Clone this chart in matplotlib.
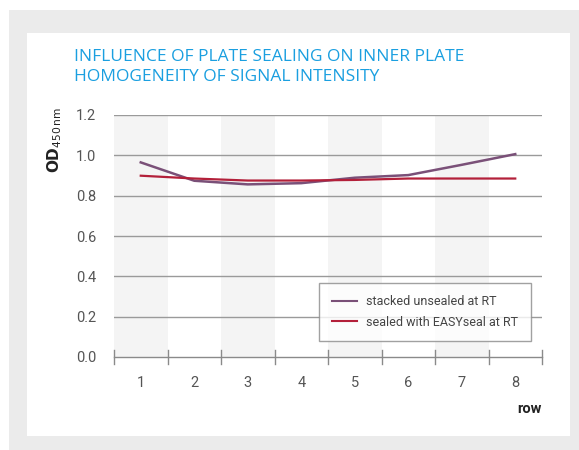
import numpy as np
import matplotlib.pyplot as plt
from matplotlib.patches import Rectangle

# Data
rows = [1, 2, 3, 4, 5, 6, 7, 8]
unsealed = [0.965, 0.874, 0.856, 0.862, 0.889, 0.902, 0.953, 1.006]
sealed = [0.899, 0.885, 0.875, 0.875, 0.878, 0.885, 0.885, 0.885]
yticks = [0.0, 0.2, 0.4, 0.6, 0.8, 1.0, 1.2]
labels = ["stacked unsealed at RT", "sealed with EASYseal at RT"]
title = "INFLUENCE OF PLATE SEALING ON INNER PLATE\nHOMOGENEITY OF SIGNAL INTENSITY"

W, H = 579, 450
fig = plt.figure(figsize=(W / 100, H / 100), dpi=100)
fig.patch.set_facecolor("white")

# grey frame and white panel
fig.patches.append(Rectangle((9 / W, 0), 1, 1 - 10 / H, transform=fig.transFigure,
                             facecolor="#ebebeb", edgecolor="none", zorder=-10))
fig.patches.append(Rectangle((27 / W, 1 - 436 / H), (570 - 27) / W, (436 - 33) / H,
                             transform=fig.transFigure, facecolor="white",
                             edgecolor="none", zorder=-9))

ax = fig.add_axes([114 / W, 1 - 357 / H, (542 - 114) / W, (357 - 115) / H])
ax.set_facecolor("none")

x = np.arange(len(rows))
for i in range(0, len(rows), 2):
    ax.axvspan(i - 0.5, i + 0.5, color="#f4f4f4", lw=0, zorder=0)

for v in yticks[1:]:
    ax.axhline(v, color="#9a9a9a", lw=1, zorder=1)

ax.plot(x, unsealed, color="#7a5078", lw=1.8, zorder=3, label=labels[0])
ax.plot(x, sealed, color="#b3203a", lw=1.6, zorder=3, label=labels[1])

ax.set_xlim(-0.5, len(rows) - 0.5)
ax.set_ylim(0, 1.2)
for s in ax.spines.values():
    s.set_visible(False)
ax.axhline(0, color="#8a8a8a", lw=1, zorder=2, clip_on=False)

# tick marks at category borders, crossing the base line
for b in np.arange(-0.5, len(rows), 1.0):
    ax.plot([b, b], [-0.035, 0.035], color="#8a8a8a", lw=1, clip_on=False, zorder=2)

ax.set_xticks(x)
ax.set_xticklabels([str(r) for r in rows])
ax.set_yticks(yticks)
ax.set_yticklabels([f"{v:.1f}" for v in yticks])
ax.tick_params(axis="both", length=0, labelsize=10.5, labelcolor="#555555")
ax.tick_params(axis="x", pad=14)
ax.tick_params(axis="y", pad=13)
for t in ax.get_xticklabels() + ax.get_yticklabels():
    t.set_family("Roboto")

ax.text(1.0, -0.215, "row", transform=ax.transAxes, ha="right", va="center",
        fontsize=10.5, fontweight="bold", color="#222222", family="Roboto")
fig.text(55 / W, 1 - 140 / H, r"$\mathbf{OD}_{\mathregular{450\,nm}}$", rotation=90,
         ha="center", va="center", fontsize=11, color="#222222")

fig.text(74 / W, 1 - 67 / H, title, ha="left", va="center", fontsize=12.5,
         color="#1a9fe0", family="Open Sans", linespacing=1.35)

leg = ax.legend(loc="lower right", bbox_to_anchor=((531 - 114) / 428, 16 / 242),
                borderaxespad=0, frameon=True, fancybox=False,
                prop={"family": "Roboto", "size": 9}, handlelength=2.0,
                borderpad=1.0, labelspacing=0.6)
leg.get_frame().set_edgecolor("#8a8a8a")
leg.get_frame().set_linewidth(1)
for t in leg.get_texts():
    t.set_color("#444444")
for l in leg.get_lines():
    l.set_linewidth(1.5)

fig.savefig("out.png", dpi=100)
